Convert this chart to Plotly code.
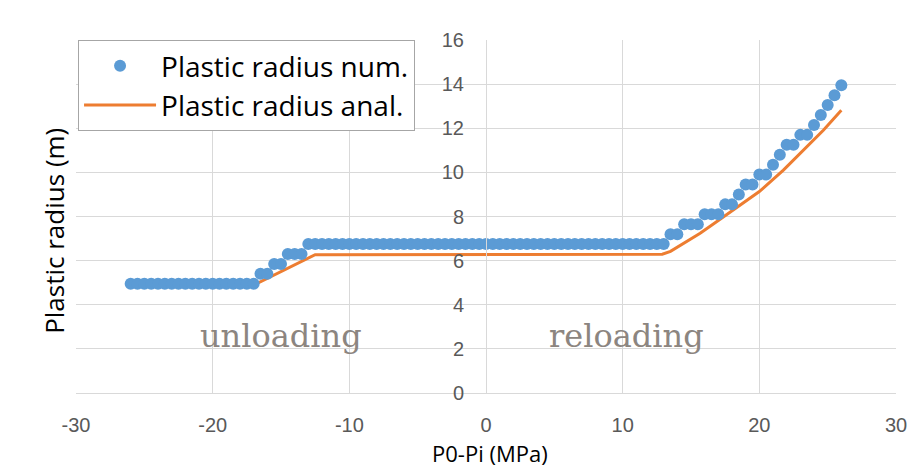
import plotly.graph_objects as go

# ---- data ----
num_x = [
    -26.0, -25.5, -25.0, -24.5, -24.0, -23.5, -23.0, -22.5, -22.0, -21.5,
    -21.0, -20.5, -20.0, -19.5, -19.0, -18.5, -18.0, -17.5, -17.0, -16.5,
    -16.0, -15.5, -15.0, -14.5, -14.0, -13.5, -13.0, -12.5, -12.0, -11.5,
    -11.0, -10.5, -10.0, -9.5, -9.0, -8.5, -8.0, -7.5, -7.0, -6.5,
    -6.0, -5.5, -5.0, -4.5, -4.0, -3.5, -3.0, -2.5, -2.0, -1.5,
    -1.0, -0.5, 0.0, 0.5, 1.0, 1.5, 2.0, 2.5, 3.0, 3.5,
    4.0, 4.5, 5.0, 5.5, 6.0, 6.5, 7.0, 7.5, 8.0, 8.5,
    9.0, 9.5, 10.0, 10.5, 11.0, 11.5, 12.0, 12.5, 13.0, 13.5,
    14.0, 14.5, 15.0, 15.5, 16.0, 16.5, 17.0, 17.5, 18.0, 18.5,
    19.0, 19.5, 20.0, 20.5, 21.0, 21.5, 22.0, 22.5, 23.0, 23.5,
    24.0, 24.5, 25.0, 25.5, 26.0,
]
num_y = [
    4.95, 4.95, 4.95, 4.95, 4.95, 4.95, 4.95, 4.95, 4.95, 4.95,
    4.95, 4.95, 4.95, 4.95, 4.95, 4.95, 4.95, 4.95, 4.95, 5.40,
    5.40, 5.85, 5.85, 6.30, 6.30, 6.30, 6.75, 6.75, 6.75, 6.75,
    6.75, 6.75, 6.75, 6.75, 6.75, 6.75, 6.75, 6.75, 6.75, 6.75,
    6.75, 6.75, 6.75, 6.75, 6.75, 6.75, 6.75, 6.75, 6.75, 6.75,
    6.75, 6.75, 6.75, 6.75, 6.75, 6.75, 6.75, 6.75, 6.75, 6.75,
    6.75, 6.75, 6.75, 6.75, 6.75, 6.75, 6.75, 6.75, 6.75, 6.75,
    6.75, 6.75, 6.75, 6.75, 6.75, 6.75, 6.75, 6.75, 6.75, 7.20,
    7.20, 7.65, 7.65, 7.65, 8.10, 8.10, 8.10, 8.55, 8.55, 9.00,
    9.45, 9.45, 9.90, 9.90, 10.35, 10.80, 11.25, 11.25, 11.70, 11.70,
    12.15, 12.60, 13.05, 13.50, 13.95,
]

anal_x = [-26.0, -16.8, -12.5, 12.5, 12.9, 13.5, 14.5, 15.67, 17.0,
          18.1, 20.0, 21.76, 23.48, 24.7, 26.0]
anal_y = [4.95, 4.95, 6.27, 6.27, 6.29, 6.42, 6.8, 7.24, 7.82,
          8.3, 9.13, 10.1, 11.17, 11.92, 12.82]

x_ticks = [-30, -20, -10, 0, 10, 20, 30]
y_ticks = [0, 2, 4, 6, 8, 10, 12, 14, 16]

num_name = "Plastic radius num."
anal_name = "Plastic radius anal."
x_title = "P0-Pi (MPa)"
y_title = "Plastic radius (m)"
region_labels = ["unloading", "reloading"]
region_label_x = [-15.0, 10.3]
region_label_y = [2.6, 2.6]

BLUE = "#5b9bd5"
ORANGE = "#ed7d31"
GRID = "#d9d9d9"
TICKFONT = "Liberation Sans, Arial, sans-serif"
TEXTFONT = "Open Sans, Liberation Sans, sans-serif"

fig = go.Figure()
fig.add_trace(go.Scatter(
    x=anal_x, y=anal_y, mode="lines", name=anal_name,
    line=dict(color=ORANGE, width=3), legendrank=2, legendgroup="b",
))
fig.add_trace(go.Scatter(
    x=num_x, y=num_y, mode="markers", name=num_name,
    marker=dict(color=BLUE, size=12, line=dict(width=0)),
    legendrank=1, legendgroup="a",
))

for t, lx, ly in zip(region_labels, region_label_x, region_label_y):
    fig.add_annotation(
        x=lx, y=ly, xref="x", yref="y", text=t, showarrow=False,
        font=dict(family="DejaVu Serif, Liberation Serif, serif", size=32, color="#8c8580"),
    )

# axis titles
fig.add_annotation(
    x=-0.027, y=0.459, xref="paper", yref="paper", text=y_title,
    textangle=-90, showarrow=False, xanchor="center", yanchor="middle",
    font=dict(family=TEXTFONT, size=26, color="#000000"),
)
fig.add_annotation(
    x=0.505, y=-0.170, xref="paper", yref="paper", text=x_title,
    showarrow=False, xanchor="center", yanchor="middle",
    font=dict(family=TEXTFONT, size=22, color="#000000"),
)

fig.update_layout(
    width=915, height=460, autosize=False,
    margin=dict(l=68, r=27, t=32, b=75),
    paper_bgcolor="white", plot_bgcolor="white",
    showlegend=True,
    legend=dict(
        x=0.0025, y=1.0, xanchor="left", yanchor="top",
        bgcolor="white", bordercolor="#a6a6a6", borderwidth=1,
        font=dict(family=TEXTFONT, size=28, color="#000000"),
        itemwidth=72, tracegroupgap=0,
    ),
    xaxis=dict(
        range=[-30, 30], tickvals=x_ticks, ticktext=[str(v) for v in x_ticks],
        showgrid=True, gridcolor=GRID, gridwidth=1,
        showline=True, linecolor=GRID, linewidth=1, zeroline=False,
        ticks="", ticklabelstandoff=14,
        tickfont=dict(family=TICKFONT, size=20, color="#595959"),
    ),
    yaxis=dict(
        range=[0, 16], tickvals=y_ticks, ticktext=[str(v) for v in y_ticks],
        anchor="free", position=0.5,
        showgrid=True, gridcolor=GRID, gridwidth=1,
        showline=True, linecolor=GRID, linewidth=1, zeroline=False,
        ticks="", ticklabelstandoff=18,
        tickfont=dict(family=TICKFONT, size=20, color="#595959"),
    ),
)

fig.write_html("out.html")
